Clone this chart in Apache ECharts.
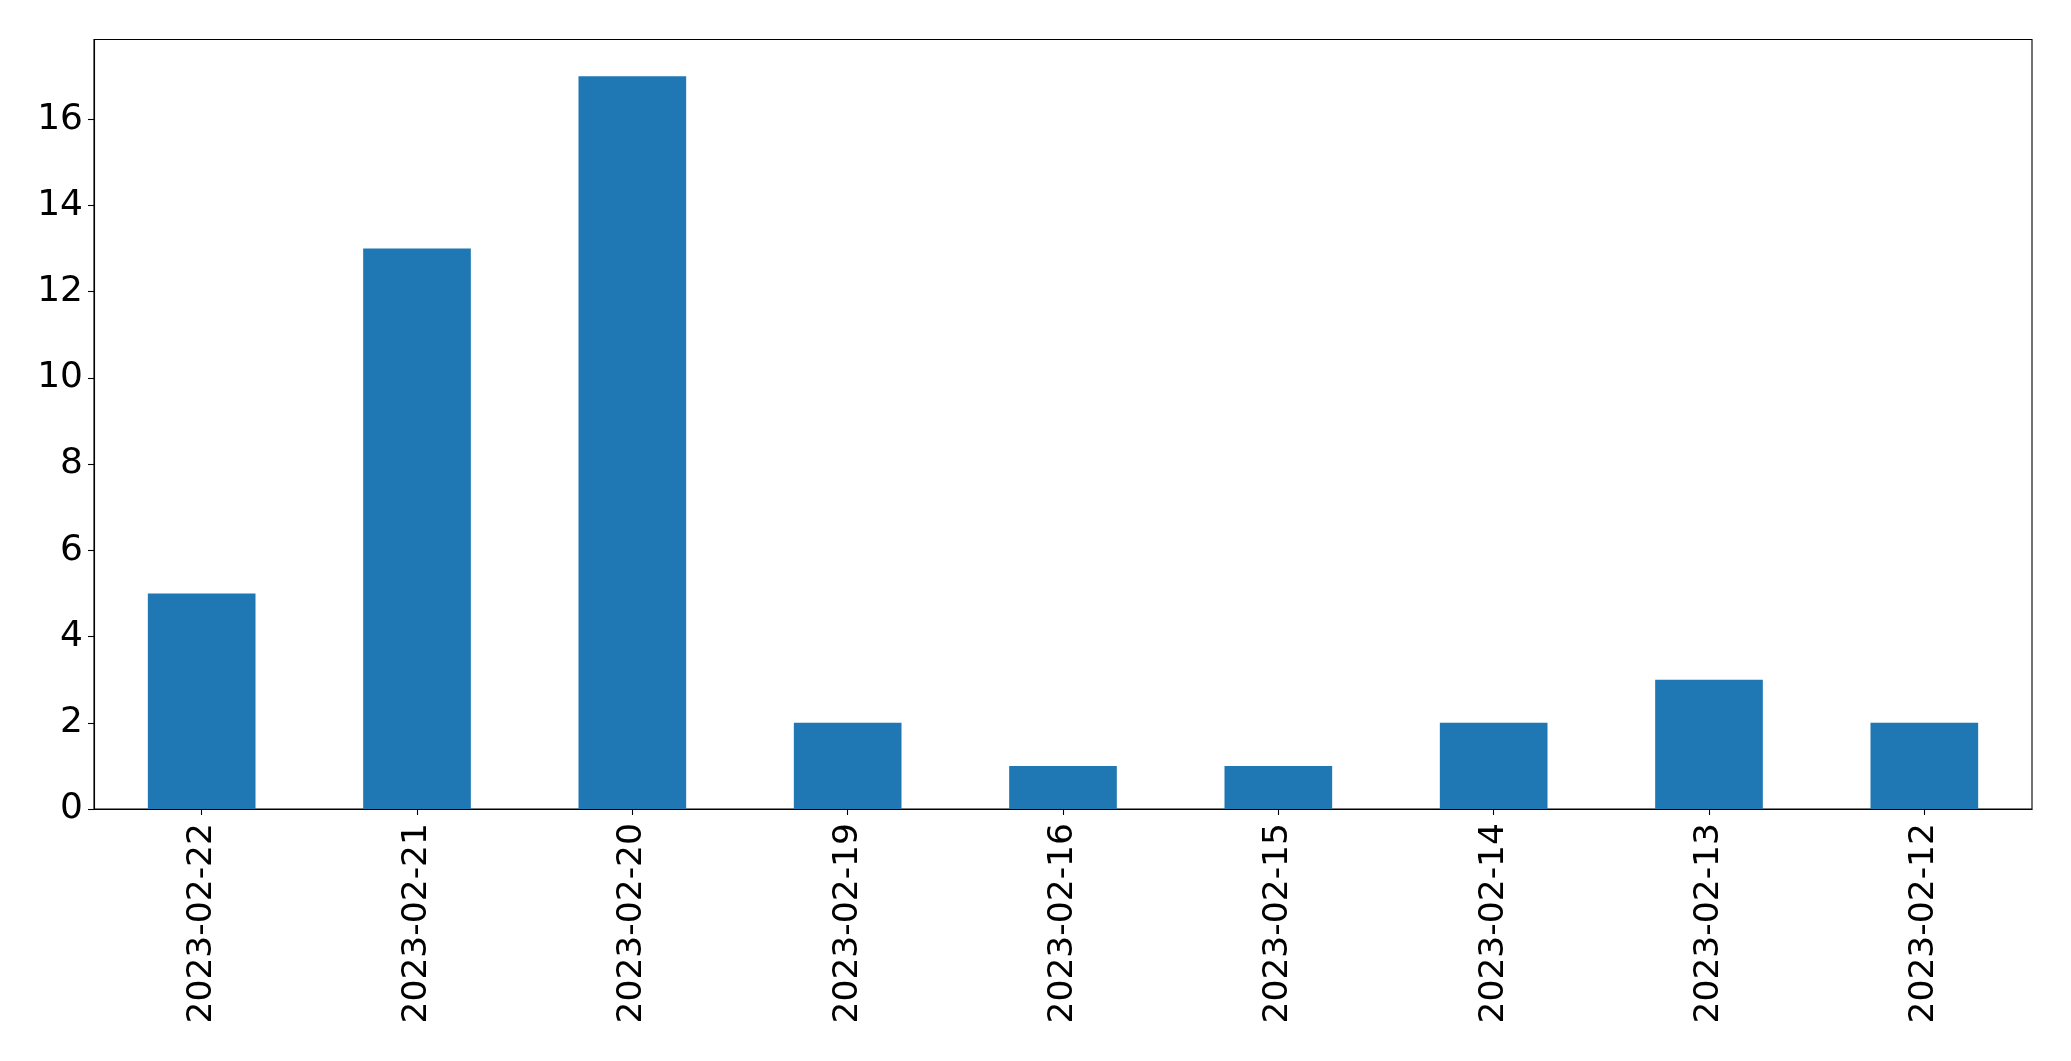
<!DOCTYPE html>
<html>
<head>
<meta charset="utf-8">
<script src="https://cdn.jsdelivr.net/npm/echarts@6/dist/echarts.min.js"></script>
<style>
html,body{margin:0;padding:0;background:#fff;}
#chart{width:2071px;height:1061px;}
</style>
</head>
<body>
<div id="chart"></div>
<script>
const categories = ["2023-02-22","2023-02-21","2023-02-20","2023-02-19","2023-02-16","2023-02-15","2023-02-14","2023-02-13","2023-02-12"];
const values = [5, 13, 17, 2, 1, 1, 2, 3, 2];
const yTicks = [0, 2, 4, 6, 8, 10, 12, 14, 16];

const chart = echarts.init(document.getElementById('chart'), null, {renderer: 'canvas'});
const font = 'DejaVu Sans';
chart.setOption({
  animation: false,
  backgroundColor: '#ffffff',
  grid: {
    left: 94, top: 39.5, width: 1938, height: 769.5,
    show: true, borderColor: '#000', borderWidth: 1.1, backgroundColor: 'transparent'
  },
  xAxis: {
    type: 'category',
    data: categories,
    boundaryGap: true,
    axisLine: {show: true, lineStyle: {color: '#000', width: 1.1}},
    axisTick: {show: true, alignWithLabel: true, length: 6, lineStyle: {color: '#000', width: 1.1}},
    axisLabel: {rotate: 90, margin: 14, fontFamily: font, fontSize: 34.5, color: '#000', interval: 0}
  },
  yAxis: {
    type: 'value',
    min: 0, max: 17.85, interval: 2,
    splitLine: {show: false},
    axisLine: {show: true, lineStyle: {color: '#000', width: 1.1}},
    axisTick: {show: true, length: 6, customValues: yTicks, lineStyle: {color: '#000', width: 1.1}},
    axisLabel: {
      margin: 11, fontFamily: font, fontSize: 36, color: '#000',
      customValues: yTicks,
      formatter: function (v) { return String(v); }
    }
  },
  series: [{
    type: 'bar',
    data: values,
    barWidth: '50%',
    itemStyle: {color: '#1f77b4'}
  }]
});
</script>
</body>
</html>
